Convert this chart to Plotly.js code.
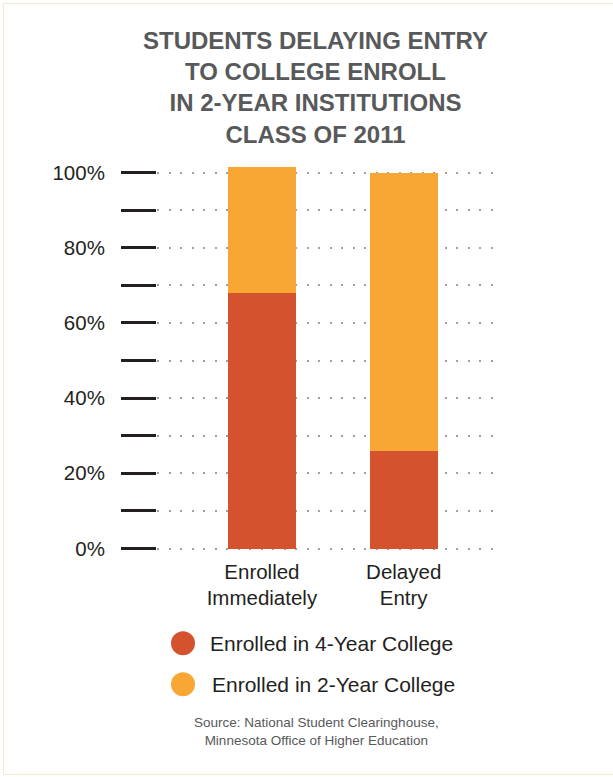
<!DOCTYPE html>
<html>
<head>
<meta charset="utf-8">
<script src="https://cdn.plot.ly/plotly-3.0.1.min.js"></script>
<style>
html,body{margin:0;padding:0;background:#fff;}
#chart{width:613px;height:777px;position:absolute;left:0;top:0;}
#frame{position:absolute;left:3px;top:3px;width:620px;height:770px;border:1.5px solid #fbe6cf;pointer-events:none;}
</style>
</head>
<body>
<div id="chart"></div>
<div id="frame"></div>
<script>
// ---- data ----
const categories = ['Enrolled<br>Immediately', 'Delayed<br>Entry'];
const fourYear = [68, 26];      // Enrolled in 4-Year College (%)
const twoYear = [33.5, 74];     // Enrolled in 2-Year College (%)
const seriesNames = ['Enrolled in 4-Year College', 'Enrolled in 2-Year College'];
const yTickVals = [0, 10, 20, 30, 40, 50, 60, 70, 80, 90, 100];
const yTickText = ['0%', '', '20%', '', '40%', '', '60%', '', '80%', '', '100%'];
const titleText = 'STUDENTS DELAYING ENTRY<br>TO COLLEGE ENROLL<br>IN 2-YEAR INSTITUTIONS<br>CLASS OF 2011';
const sourceText = 'Source: National Student Clearinghouse,<br>Minnesota Office of Higher Education';

const colors = ['#d4522e', '#f8a634'];
const FONT = 'Liberation Sans, Arial, sans-serif';

// plot area geometry (pixels)
const W = 613, H = 777;
const yMin = -0.4, yMax = 102, pxPerUnit = 3.758;
const M = {l: 157, r: 120, t: 165, b: 0};
M.b = H - M.t - (yMax - yMin) * pxPerUnit;
const pw = W - M.l - M.r, ph = H - M.t - M.b;
const px = x => (x - M.l) / pw;
const py = y => (H - M.b - y) / ph;

const traces = [
  {type: 'bar', x: categories, y: fourYear, name: seriesNames[0],
   marker: {color: colors[0]}, width: 0.48, showlegend: false, hoverinfo: 'skip'},
  {type: 'bar', x: categories, y: twoYear, name: seriesNames[1],
   marker: {color: colors[1]}, width: 0.48, showlegend: false, hoverinfo: 'skip'}
];

const legendY = [643, 684];
const legendX = [183, 183];
const shapes = [], annotations = [];
seriesNames.forEach((n, i) => {
  const r = 12;
  shapes.push({type: 'circle', xref: 'paper', yref: 'paper',
    x0: px(legendX[i] - r), x1: px(legendX[i] + r),
    y0: py(legendY[i] - r), y1: py(legendY[i] + r),
    fillcolor: colors[i], line: {width: 0}});
  annotations.push({xref: 'paper', yref: 'paper', x: px(208 + i * 2), y: py(legendY[i]),
    xanchor: 'left', yanchor: 'middle', showarrow: false, text: n,
    font: {family: FONT, size: 21, color: '#231f20'}});
});
annotations.push({xref: 'paper', yref: 'paper', x: px(316), y: py(731.5),
  xanchor: 'center', yanchor: 'middle', showarrow: false, text: sourceText,
  font: {family: FONT, size: 13.5, color: '#58595b'}});

const layout = {
  width: W, height: H,
  margin: M,
  paper_bgcolor: '#fff', plot_bgcolor: 'rgba(0,0,0,0)',
  barmode: 'stack',
  showlegend: false,
  title: {text: titleText, xref: 'container', yref: 'container',
    x: 315.5 / W, xanchor: 'center', y: 1 - 49 / H, yanchor: 'top',
    font: {family: FONT, size: 24, color: '#58595b', weight: 'bold'}},
  xaxis: {type: 'category', range: [-0.74, 1.63], showgrid: false, zeroline: false,
    showline: false, ticks: '', ticklabelstandoff: 7,
    tickfont: {family: FONT, size: 20.5, color: '#231f20'}},
  yaxis: {range: [yMin, yMax], tickvals: yTickVals, ticktext: yTickText,
    ticks: 'outside', ticklen: 35, tickwidth: 3, tickcolor: '#231f20',
    ticklabelstandoff: 12,
    tickfont: {family: FONT, size: 20.5, color: '#231f20'},
    showgrid: true, gridcolor: '#a0a0a0', gridwidth: 2, griddash: '2px,9.5px',
    zeroline: false, showline: false},
  shapes: shapes,
  annotations: annotations
};

Plotly.newPlot('chart', traces, layout, {displayModeBar: false, staticPlot: true});
</script>
</body>
</html>
